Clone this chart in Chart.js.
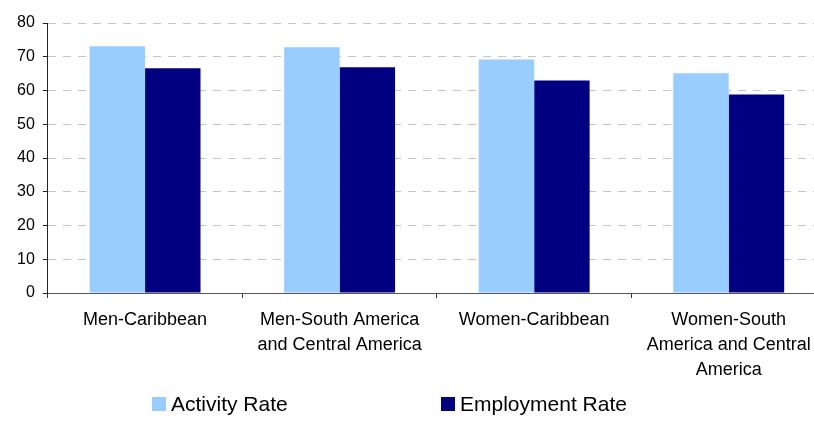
<!DOCTYPE html>
<html>
<head>
<meta charset="utf-8">
<script src="https://cdn.jsdelivr.net/npm/chart.js@4.4.1/dist/chart.umd.min.js"></script>
<style>
  html, body { margin: 0; padding: 0; background: #fff; overflow: hidden; }
  #wrap { position: relative; width: 814px; height: 441px; overflow: hidden; }
  #chart { position: absolute; left: 0; top: 0; }
  #legend { position: absolute; left: 0; top: 391px; width: 814px; height: 26px;
            font: 21px 'Liberation Sans', Arial, sans-serif; color: #000; }
  .item { position: absolute; top: 0; display: flex; align-items: center; height: 26px; white-space: nowrap; }
  .box { width: 14px; height: 14px; margin-right: 5px; }
</style>
</head>
<body>
<div id="wrap">
  <canvas id="chart" width="840" height="441"></canvas>
  <div id="legend"></div>
</div>
<script>
const categories = [
  ['Men-Caribbean'],
  ['Men-South America', 'and Central America'],
  ['Women-Caribbean'],
  ['Women-South', 'America and Central', 'America']
];
const seriesNames = ['Activity Rate', 'Employment Rate'];
const activityRate = [73.1, 72.8, 69.2, 65.1];
const employmentRate = [66.6, 66.9, 63.0, 58.8];
const yTicks = [0, 10, 20, 30, 40, 50, 60, 70, 80];

const colors = ['#99ccff', '#000080'];
const font = "'Liberation Sans', Arial, sans-serif";

const chart = new Chart(document.getElementById('chart'), {
  type: 'bar',
  data: {
    labels: categories,
    datasets: [
      { label: seriesNames[0], data: activityRate, backgroundColor: colors[0] },
      { label: seriesNames[1], data: employmentRate, backgroundColor: colors[1] }
    ]
  },
  options: {
    responsive: false,
    animation: false,
    layout: { padding: { left: 9, right: 14, top: 23, bottom: 48 } },
    datasets: { bar: { categoryPercentage: 0.57, barPercentage: 1.0 } },
    plugins: { legend: { display: false }, tooltip: { enabled: false } },
    scales: {
      x: {
        offset: true,
        grid: { offset: true, drawOnChartArea: false, tickLength: 5, tickColor: '#333' },
        border: { color: '#555', width: 1 },
        ticks: { color: '#000', padding: 10, font: { family: font, size: 18, lineHeight: 25 / 18 }, maxRotation: 0, autoSkip: false }
      },
      y: {
        min: yTicks[0],
        max: yTicks[yTicks.length - 1],
        afterBuildTicks: s => { s.ticks = yTicks.map(v => ({ value: v })); },
        grid: { color: '#c4c4c4', lineWidth: 1, tickLength: 5, tickColor: '#222' },
        border: { color: '#222', width: 1, dash: [8, 7] },
        ticks: { color: '#000', padding: 8, font: { family: font, size: 16 } }
      }
    }
  }
});

// legend laid out like the original, spread wide under the plot
const legendPos = [152, 441];
const legend = document.getElementById('legend');
chart.data.datasets.forEach((ds, i) => {
  const item = document.createElement('div');
  item.className = 'item';
  item.style.left = legendPos[i] + 'px';
  item.innerHTML = `<span class="box" style="background:${ds.backgroundColor}"></span>${ds.label}`;
  legend.appendChild(item);
});
</script>
</body>
</html>
